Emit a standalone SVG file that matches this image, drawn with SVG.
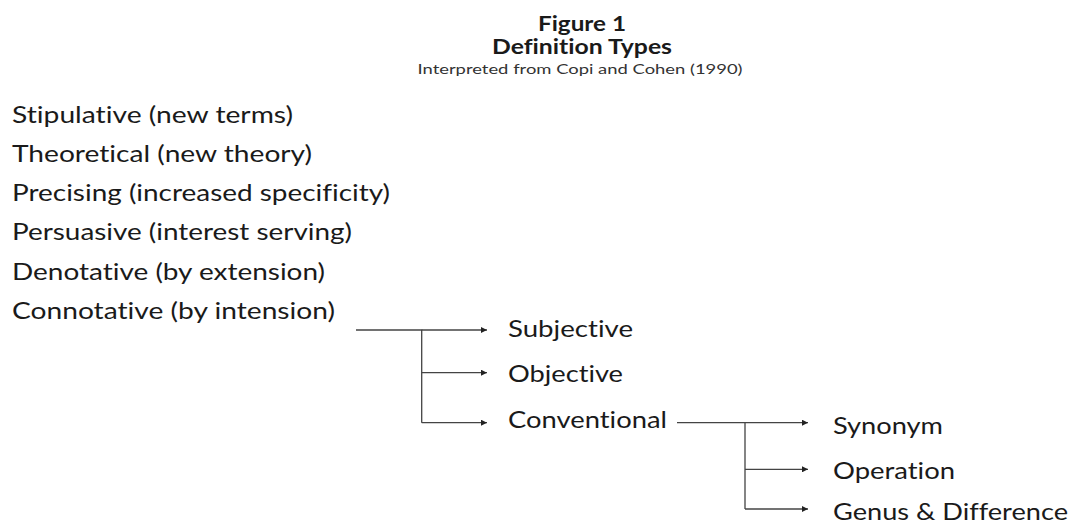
<svg xmlns="http://www.w3.org/2000/svg" width="1073" height="524" viewBox="0 0 1073 524">
<style>
text{font-variant-ligatures:none}
.t{font-family:Lato,"Open Sans","Liberation Sans",sans-serif;font-size:23px;fill:#1a1a1a}
.h{font-family:Lato,"Open Sans","Liberation Sans",sans-serif;font-size:21px;font-weight:bold;fill:#1a1a1a;text-anchor:middle}
.s{font-family:Lato,"Open Sans","Liberation Sans",sans-serif;font-size:14px;fill:#333;text-anchor:middle}
.c{stroke:#444;stroke-width:1.3;fill:none}
.a{stroke:#444;stroke-width:1.3;fill:none;marker-end:url(#ah)}
</style>
<defs>
<marker id="ah" viewBox="0 0 10 10" refX="10" refY="5" markerWidth="7" markerHeight="6" markerUnits="userSpaceOnUse" orient="auto">
<path d="M0,0 L10,5 L0,10 z" fill="#222"/>
</marker>
</defs>
<rect width="1073" height="524" fill="#fff"/>
<g id="title">
<text class="h" x="582" y="31" textLength="88" lengthAdjust="spacingAndGlyphs">Figure 1</text>
<text class="h" x="582" y="54" textLength="180" lengthAdjust="spacingAndGlyphs">Definition Types</text>
<text class="s" x="580" y="74" textLength="325" lengthAdjust="spacingAndGlyphs">Interpreted from Copi and Cohen (1990)</text>
</g>
<g id="n-stipulative"><text class="t" x="12" y="122.5" textLength="281" lengthAdjust="spacingAndGlyphs">Stipulative (new terms)</text></g>
<g id="n-theoretical"><text class="t" x="12" y="161.8" textLength="300" lengthAdjust="spacingAndGlyphs">Theoretical (new theory)</text></g>
<g id="n-precising"><text class="t" x="12" y="201.1" textLength="378" lengthAdjust="spacingAndGlyphs">Precising (increased specificity)</text></g>
<g id="n-persuasive"><text class="t" x="12" y="240.4" textLength="340" lengthAdjust="spacingAndGlyphs">Persuasive (interest serving)</text></g>
<g id="n-denotative"><text class="t" x="12" y="279.7" textLength="313" lengthAdjust="spacingAndGlyphs">Denotative (by extension)</text></g>
<g id="n-connotative"><text class="t" x="12" y="319" textLength="323" lengthAdjust="spacingAndGlyphs">Connotative (by intension)</text></g>
<g id="n-subjective"><text class="t" x="508" y="337" textLength="125" lengthAdjust="spacingAndGlyphs">Subjective</text></g>
<g id="n-objective"><text class="t" x="508" y="381.5" textLength="115" lengthAdjust="spacingAndGlyphs">Objective</text></g>
<g id="n-conventional"><text class="t" x="508" y="427.5" textLength="159" lengthAdjust="spacingAndGlyphs">Conventional</text></g>
<g id="n-synonym"><text class="t" x="833" y="434" textLength="110" lengthAdjust="spacingAndGlyphs">Synonym</text></g>
<g id="n-operation"><text class="t" x="833" y="479" textLength="122" lengthAdjust="spacingAndGlyphs">Operation</text></g>
<g id="n-genus"><text class="t" x="833" y="520" textLength="235" lengthAdjust="spacingAndGlyphs">Genus &amp; Difference</text></g>
<g id="connectors">
<path class="c" d="M356,330 H421.7 V422.7"/>
<path class="a" d="M421.7,330 H487"/>
<path class="a" d="M421.7,372.7 H487"/>
<path class="a" d="M421.7,422.7 H487"/>
<path class="c" d="M677,422.7 H745 V509"/>
<path class="a" d="M745,422.7 H808"/>
<path class="a" d="M745,469.3 H808"/>
<path class="a" d="M745,509 H808"/>
</g>
</svg>
